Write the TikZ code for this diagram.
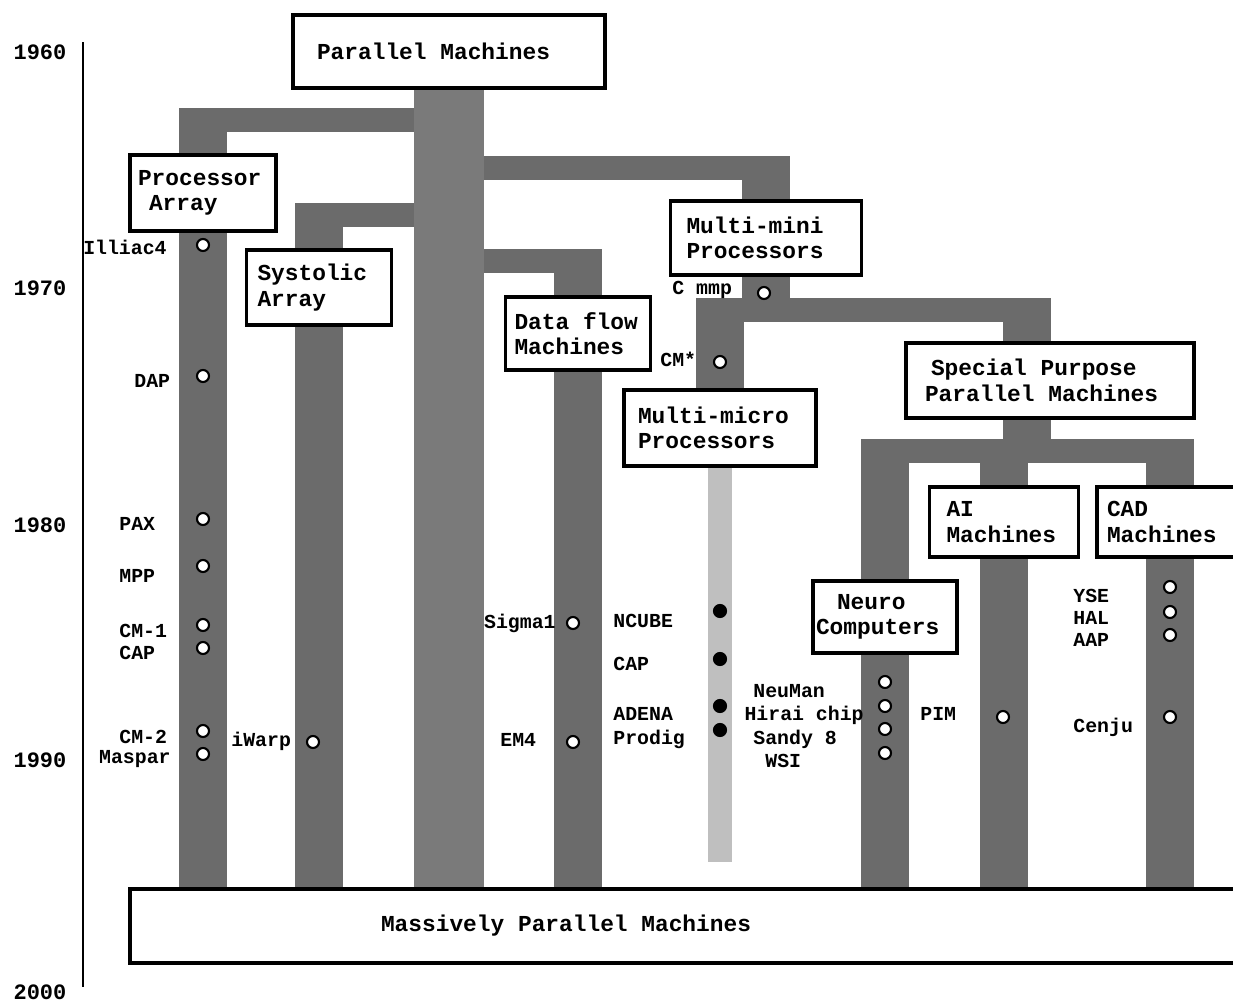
\documentclass[tikz,border=0pt]{standalone}
\usepackage{fontspec}
\setmonofont{Liberation Mono}
\usepackage{tikz}
\usetikzlibrary{backgrounds}
\newlength\pxu
\setlength\pxu{0.02cm}

\begin{document}
\begin{tikzpicture}[x=0.02cm, y=-0.02cm,
    box/.style={draw, line width=1.8pt, fill=white, align=flush left, inner sep=0pt,
                font=\ttfamily\bfseries\fontsize{13}{14.5}\selectfont},
    stem/.style={draw=black!58, line width=48\pxu},
    bar/.style={draw=black!58, line width=24\pxu},
    lab/.style={inner sep=0pt, text height=7.5pt, text depth=0pt,
                font=\ttfamily\bfseries\fontsize{11.3}{13}\selectfont},
    yr/.style={inner sep=0pt, text height=8.5pt, text depth=0pt,
               font=\ttfamily\bfseries\fontsize{12.5}{14}\selectfont},
    dot/.style={circle, draw, line width=1.2pt, fill=white, inner sep=0pt,
                minimum size=12\pxu}]

    \useasboundingbox (0,0) rectangle (1233,1004);
    \clip (0,0) rectangle (1233,1004);

    % time axis
    \coordinate (t0) at (83,42);
    \coordinate (t1) at (83,987);
    \draw[line width=1.3pt] (t0) -- (t1);
    \foreach \yr/\yy in {1960/52, 1970/288, 1980/525, 1990/760, 2000/992}
      \node[yr] (y\yr) at (40,\yy) {\yr};

    % families
    \node[box, minimum width=312\pxu, minimum height=73\pxu, text width=264\pxu]
      (par) at (449,51.5) {Parallel Machines};
    \node[box, minimum width=146\pxu, minimum height=76\pxu, text width=130\pxu]
      (pa) at (203,193) {Processor\\\hspace*{11\pxu}Array};
    \node[box, minimum width=145\pxu, minimum height=75\pxu, text width=123\pxu]
      (sys) at (319,287.5) {Systolic\\Array};
    \node[box, minimum width=145\pxu, minimum height=73\pxu, text width=127\pxu]
      (df) at (578,333.5) {Data flow\\Machines};
    \node[box, minimum width=191\pxu, minimum height=74\pxu, text width=159\pxu]
      (mmini) at (766,238) {Multi-mini\\Processors};
    \node[box, minimum width=192\pxu, minimum height=76\pxu, text width=164\pxu]
      (mmicro) at (720,428) {Multi-micro\\Processors};
    \node[box, minimum width=288\pxu, minimum height=75\pxu, text width=250\pxu]
      (spec) at (1050,380.5) {\hspace*{6\pxu}Special Purpose\\Parallel Machines};
    \node[box, minimum width=144\pxu, minimum height=72\pxu, text width=138\pxu]
      (neuro) at (885,617) {\hspace*{21\pxu}Neuro\\Computers};
    \node[box, minimum width=149\pxu, minimum height=70\pxu, text width=115\pxu]
      (ai) at (1004,522) {AI\\Machines};
    \node[box, minimum width=146\pxu, minimum height=70\pxu, text width=126\pxu]
      (cad) at (1170,522) {CAD\\Machines};
    \node[box, minimum width=1113\pxu, minimum height=74\pxu, text width=611\pxu]
      (mas) at (686.5,926) {Massively Parallel Machines};
    \coordinate (sp) at ([xshift=-23\pxu]spec.center);

    \begin{scope}[on background layer]
      % branches hanging off the main stem
      \draw[bar] (par.south |- 0,120) -| (pa);
      \draw[bar] (par.south |- 0,215) -| (sys);
      \draw[bar] (par.south |- 0,168) -| (mmini);
      \draw[bar] (par.south |- 0,261) -| (df);
      \draw[stem] (pa |- 0,108) -- (pa |- mas.north);
      \draw[stem] (sys |- 0,203) -- (sys |- mas.north);
      \draw[stem] (df |- 0,249) -- (df |- mas.north);
      \draw[stem] (mmini |- 0,156) -- (mmini |- 0,322);
      % multi-mini splits into multi-micro and special purpose
      \draw[bar] (mmicro |- 0,310) -- (sp |- 0,310);
      \draw[stem] (mmicro |- 0,298) -- (mmicro);
      \draw[stem, line width=24\pxu, draw=black!25] (mmicro) -- (mmicro |- 0,862);
      \draw[stem] (sp |- 0,298) -- (sp |- 0,463);
      % special purpose families
      \draw[bar] (neuro |- 0,451) -- (cad |- 0,451);
      \draw[stem] (neuro |- 0,439) -- (neuro |- mas.north);
      \draw[stem] (ai |- 0,463) -- (ai |- mas.north);
      \draw[stem] (cad |- 0,439) -- (cad |- mas.north);
      % main stem
      \draw[stem, line width=70\pxu, draw=black!52] (par.south) -- (par.south |- mas.north);
    \end{scope}

    % machines
    \node[lab, anchor=east] (illiac) at (167,248) {Illiac4};
    \node[lab, anchor=west] (dap) at (134,381) {DAP};
    \foreach \yy/\txt [count=\i] in {524/PAX, 576/MPP, 631/CM-1, 653/CAP, 737/CM-2}
      \node[lab, anchor=west] (pal\i) at (119,\yy) {\txt};
    \node[lab, anchor=east] (maspar) at (171,757) {Maspar};
    \node[lab, anchor=west] (iwarp) at (231,740) {iWarp};
    \node[lab, anchor=east] (sigma) at (556,622) {Sigma1};
    \node[lab, anchor=west] (em4) at (500,740) {EM4};
    \foreach \yy/\txt [count=\i] in {621/NCUBE, 664/CAP, 714/ADENA, 738/Prodig}
      \node[lab, anchor=west] (mml\i) at (613,\yy) {\txt};
    \node[lab, anchor=west] (cmmp) at (672,288) {C mmp};
    \node[lab, anchor=west] (cmstar) at (660,360) {CM*};
    \node[lab, anchor=west] (neuman) at (753,691) {NeuMan};
    \node[lab, anchor=east] (hirai) at (864,714) {Hirai chip};
    \node[lab, anchor=west] (sandy) at (753,738) {Sandy 8};
    \node[lab, anchor=west] (wsi) at (765,761) {WSI};
    \node[lab, anchor=west] (pim) at (920,714) {PIM};
    \foreach \yy/\txt [count=\i] in {596/YSE, 618/HAL, 640/AAP, 726/Cenju}
      \node[lab, anchor=west] (cadl\i) at (1073,\yy) {\txt};

    % marks on the stems
    \foreach \yy [count=\i] in {245,376,519,566,625,648,731,754}
      \node[dot] (pad\i) at (203,\yy) {};
    \node[dot] (iwarpd) at (313,742) {};
    \node[dot] (sigd) at (573,623) {};
    \node[dot] (emd) at (573,742) {};
    \node[dot] (cmmpd) at (764,293) {};
    \node[dot] (cmsd) at (720,362) {};
    \foreach \yy [count=\i] in {611,659,706,730}
      \node[dot, fill=black] (mmd\i) at (720,\yy) {};
    \foreach \yy [count=\i] in {682,706,729,753}
      \node[dot] (nd\i) at (885,\yy) {};
    \node[dot] (pimd) at (1003,717) {};
    \foreach \yy [count=\i] in {587,612,635,717}
      \node[dot] (cadd\i) at (1170,\yy) {};
\end{tikzpicture}
\end{document}
